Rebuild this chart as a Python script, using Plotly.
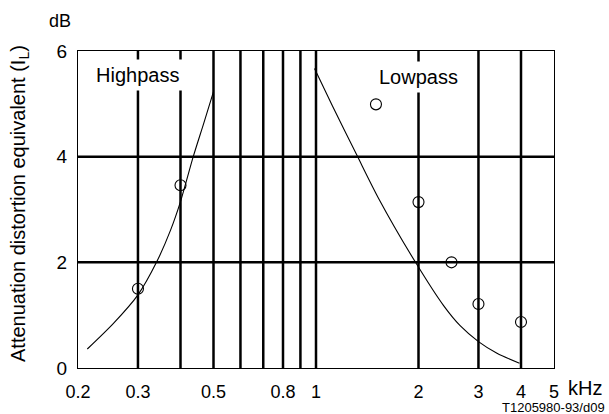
import numpy as np
import plotly.graph_objects as go

# highpass curve and measured points (kHz, dB)
hp_curve_f = [0.213, 0.2546, 0.3, 0.34, 0.374, 0.4, 0.436, 0.468, 0.5]
hp_curve_db = [0.36, 0.85, 1.385, 2.0, 2.61, 3.15, 4.0, 4.63, 5.23]
hp_pts_f = [0.3, 0.4]
hp_pts_db = [1.50, 3.46]

# lowpass curve and measured points
lp_curve_f = [0.99, 1.116, 1.32, 1.53, 1.96, 2.37, 2.65, 3.0, 3.4, 3.96]
lp_curve_db = [5.67, 4.97, 4.02, 3.2, 2.0, 1.18, 0.80, 0.50, 0.28, 0.09]
lp_pts_f = [1.5, 2.0, 2.5, 3.0, 4.0]
lp_pts_db = [4.99, 3.14, 2.0, 1.21, 0.87]

tick_vals = [0.2, 0.3, 0.5, 0.8, 1, 2, 3, 4, 5]
tick_text = ['0.2', '0.3', '0.5', '0.8', '1', '2', '3', '4', '5']
grid_x = [0.3, 0.4, 0.5, 0.6, 0.7, 0.8, 0.9, 1, 2, 3, 4]
grid_y = [2, 4]

W, H = 609, 414
ml, mr, mt, mb = 78, 55, 51, 46


def px(x, y):
    # pixel position on the page -> paper coordinates
    return (x - ml) / (W - ml - mr), (H - mb - y) / (H - mt - mb)


font = dict(family='Liberation Sans, Arial, sans-serif', size=18, color='black')

fig = go.Figure()

# shapes on a log axis take plain data values
for gx in grid_x:
    fig.add_shape(type='line', x0=gx, x1=gx, y0=0, y1=6, xref='x', yref='y',
                  line=dict(color='black', width=2.5), layer='below')
for gy in grid_y:
    fig.add_shape(type='line', x0=0.2, x1=5, y0=gy, y1=gy, xref='x', yref='y',
                  line=dict(color='black', width=2.5), layer='below')

for f, d in [(hp_curve_f, hp_curve_db), (lp_curve_f, lp_curve_db)]:
    fig.add_trace(go.Scatter(
        x=f, y=d, mode='lines', line=dict(color='black', width=1.1, shape='spline', smoothing=0.8),
        showlegend=False, hoverinfo='skip'))

fig.add_trace(go.Scatter(
    x=hp_pts_f + lp_pts_f, y=hp_pts_db + lp_pts_db, mode='markers',
    marker=dict(symbol='circle-open', size=11, color='black', line=dict(width=1.1)),
    showlegend=False))

fig.add_annotation(x=np.log10(0.3), y=5.54, text='Highpass', showarrow=False,
                   font=dict(font, size=20), bgcolor='white', borderpad=4)
fig.add_annotation(x=np.log10(2.0), y=5.50, text='Lowpass', showarrow=False,
                   font=dict(font, size=20), bgcolor='white', borderpad=4)

ax, ay = px(60, 21)
fig.add_annotation(x=ax, y=ay, xref='paper', yref='paper', text='dB', showarrow=False,
                   font=font, xanchor='center', yanchor='middle')
ax, ay = px(566, 388)
fig.add_annotation(x=ax, y=ay, xref='paper', yref='paper', text='kHz', showarrow=False,
                   font=dict(font, size=20), xanchor='left', yanchor='middle')
ax, ay = px(607, 407.5)
fig.add_annotation(x=ax, y=ay, xref='paper', yref='paper', text='T1205980-93/d09',
                   showarrow=False, font=dict(font, size=13), xanchor='right',
                   yanchor='middle')
ax, ay = px(19, 204)
fig.add_annotation(x=ax, y=ay, xref='paper', yref='paper', textangle=-90,
                   text='Attenuation distortion equivalent (I<sub>L</sub>)',
                   showarrow=False, font=dict(font, size=20), xanchor='center',
                   yanchor='middle')

fig.update_xaxes(type='log', range=[np.log10(0.2), np.log10(5)], tickvals=tick_vals,
                 ticktext=tick_text, showgrid=False, zeroline=False, showline=True,
                 linecolor='black', linewidth=1, mirror=True, ticks='outside', ticklen=7,
                 tickcolor='white', tickfont=dict(font, size=18), automargin=False)
fig.update_yaxes(range=[0, 6], tickvals=[0, 2, 4, 6], showgrid=False, zeroline=False,
                 showline=True, linecolor='black', linewidth=1, mirror=True,
                 ticks='outside', ticklen=6, tickcolor='white',
                 tickfont=dict(font, size=19), automargin=False)

fig.update_layout(
    width=W, height=H, margin=dict(l=ml, r=mr, t=mt, b=mb),
    plot_bgcolor='white', paper_bgcolor='white', font=font,
)

# the page's default body margin would push the chart off the window
fig.write_html("out.html", config={'displayModeBar': False},
               post_script="document.body.style.margin = '0';")
